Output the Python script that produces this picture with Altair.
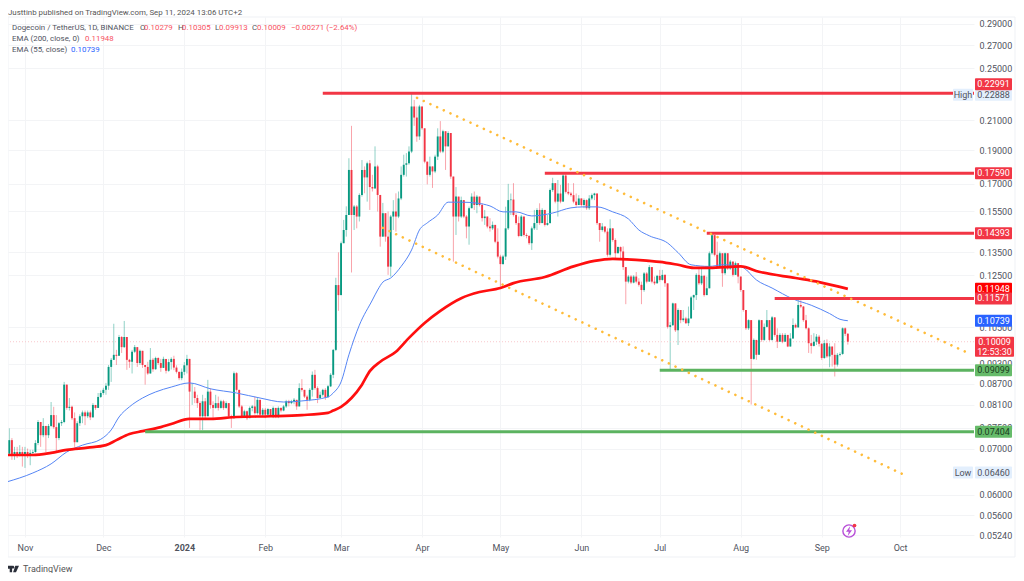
import altair as alt
import pandas as pd

START = pd.Timestamp("2023-10-25", tz="UTC")
DAY_MS = 86400000.0
START_MS = START.value / 1e6

closes = [
 .0688,.0720,.0685,.0692,.0685,.0692,.0683,.0692,.0685,.0690,
 .0692,.0713,.0765,.0732,.0755,.0732,.0755,.0783,.0752,.0725,
 .0762,.0765,.0867,.0802,.0805,.0775,.0715,.0762,.0780,.0790,
 .0780,.0790,.0777,.0810,.0802,.0832,.0843,.0852,.0864,.0920,
 .0942,.0958,.0955,.1017,.0983,.1017,.0942,.0936,.0968,.0983,
 .0932,.0971,.0926,.0920,.0900,.0942,.0913,.0948,.0932,.0917,
 .0945,.0908,.0935,.0945,.0918,.0905,.0886,.0905,.0925,.0945,
 .0847,.0847,.0829,.0815,.0780,.0820,.0780,.0847,.0810,.0802,
 .0815,.0802,.0820,.0802,.0815,.0780,.0775,.0901,.0852,.0806,
 .0780,.0793,.0775,.0802,.0806,.0788,.0824,.0784,.0797,.0784,
 .0799,.0781,.0802,.0778,.0802,.0795,.0806,.0820,.0815,.0820,
 .0824,.0806,.0857,.0852,.0833,.0824,.0852,.0896,.0857,.0829,
 .0838,.0852,.0831,.0862,.0896,.0974,.1210,.1170,.1392,.1455,
 .1530,.1779,.1530,.1574,.1522,.1636,.1779,.1735,.1819,.1680,
 .1672,.1800,.1636,.1423,.1539,.1423,.1287,.1522,.1548,.1522,
 .1617,.1750,.1810,.1819,.1892,.2200,.2120,.1990,.2200,.2045,
 .1829,.1750,.1800,.1770,.1860,.1990,.1892,.2025,.1925,.2013,
 .1740,.1522,.1627,.1522,.1608,.1522,.1472,.1565,.1627,.1582,
 .1627,.1582,.1514,.1522,.1472,.1463,.1480,.1399,.1331,.1298,
 .1331,.1463,.1608,.1611,.1530,.1489,.1426,.1522,.1431,.1426,
 .1392,.1463,.1489,.1556,.1489,.1556,.1480,.1489,.1663,.1702,
 .1600,.1644,.1600,.1746,.1653,.1644,.1635,.1600,.1582,.1617,
 .1582,.1608,.1565,.1617,.1635,.1644,.1489,.1455,.1472,.1447,
 .1339,.1463,.1407,.1346,.1374,.1354,.1285,.1224,.1245,.1220,
 .1245,.1224,.1211,.1190,.1258,.1224,.1285,.1224,.1217,.1248,
 .1231,.1252,.1217,.1052,.1058,.1138,.1040,.1113,.1076,.1082,
 .1065,.1082,.1161,.1170,.1252,.1217,.1248,.1170,.1197,.1346,
 .1430,.1339,.1285,.1346,.1259,.1346,.1279,.1309,.1252,.1302,
 .1245,.1190,.1113,.1047,.1076,.0945,.1007,.0958,.1076,.1007,
 .1052,.1076,.1007,.1086,.1024,.1001,.1024,.1001,.1024,.0985,
 .1012,.1059,.1050,.1132,.1126,.1076,.1047,.0996,.0987,.1001,
 .1018,.0994,.0948,.0996,.0953,.0985,.0958,.0927,.0958,.0961,
 .1047,.10279,.10009]

highs = [
 .0720,.0749,.0725,.0704,.0704,.0708,.0704,.0704,.0700,.0697,
 .0697,.0720,.0770,.0765,.0775,.0755,.0760,.0818,.0805,.0783,
 .0765,.0770,.0875,.0867,.0829,.0808,.0790,.0767,.0785,.0795,
 .0795,.0795,.0795,.0815,.0810,.0843,.0850,.0858,.0872,.0926,
 .0948,.1063,.0974,.1024,.1020,.1073,.1017,.0945,.0974,.0990,
 .0983,.0975,.0971,.0926,.0936,.0980,.0948,.0952,.0950,.0945,
 .0952,.0945,.0945,.0950,.0955,.0925,.0905,.0915,.0935,.0958,
 .0945,.0871,.0860,.0838,.0820,.0838,.0829,.0881,.0857,.0820,
 .0838,.0833,.0824,.0824,.0820,.0815,.0784,.0906,.0904,.0852,
 .0810,.0797,.0795,.0806,.0810,.0833,.0829,.0824,.0802,.0802,
 .0802,.0799,.0806,.0802,.0806,.0804,.0810,.0824,.0824,.0824,
 .0829,.0824,.0871,.0883,.0852,.0838,.0857,.0906,.0911,.0862,
 .0847,.0855,.0857,.0866,.0901,.0977,.1240,.1350,.1400,.1505,
 .1575,.1850,.2062,.1582,.1582,.1645,.1839,.1800,.1829,.1839,
 .1750,.1925,.1810,.1636,.1593,.1539,.1548,.1530,.1608,.1645,
 .1655,.1800,.1872,.1882,.1925,.2297,.2249,.2200,.2212,.2200,
 .2045,.1829,.1860,.1800,.1872,.2045,.2095,.2035,.2025,.2025,
 .2013,.1740,.1680,.1627,.1627,.1608,.1530,.1574,.1645,.1655,
 .1636,.1627,.1591,.1556,.1514,.1514,.1497,.1480,.1463,.1339,
 .1339,.1573,.1698,.1644,.1702,.1540,.1522,.1530,.1522,.1439,
 .1431,.1472,.1556,.1565,.1591,.1565,.1556,.1530,.1672,.1733,
 .1702,.1720,.1692,.1755,.1755,.1702,.1653,.1702,.1644,.1635,
 .1617,.1617,.1612,.1635,.1644,.1648,.1635,.1489,.1489,.1472,
 .1463,.1508,.1463,.1415,.1377,.1377,.1377,.1285,.1251,.1251,
 .1251,.1264,.1238,.1224,.1264,.1264,.1294,.1279,.1245,.1252,
 .1273,.1273,.1252,.1217,.1069,.1141,.1138,.1119,.1113,.1113,
 .1088,.1126,.1167,.1172,.1259,.1279,.1279,.1252,.1245,.1354,
 .1437,.1407,.1399,.1354,.1316,.1349,.1346,.1316,.1302,.1309,
 .1299,.1245,.1190,.1113,.1079,.1076,.1012,.1007,.1079,.1076,
 .1064,.1113,.1076,.1091,.1082,.1047,.1030,.1030,.1030,.1024,
 .1030,.1082,.1064,.1154,.1150,.1128,.1095,.1050,.1024,.1030,
 .1027,.1024,.0996,.1007,.1009,.0996,.0985,.0996,.0964,.0966,
 .1050,.1050,.10305]

lows = [
 .0647,.0684,.0674,.0674,.0678,.0682,.0659,.0656,.0678,.0662,
 .0683,.0690,.0708,.0704,.0727,.0692,.0725,.0752,.0748,.0692,
 .0720,.0755,.0762,.0797,.0795,.0770,.0704,.0715,.0755,.0762,
 .0757,.0775,.0770,.0777,.0797,.0802,.0829,.0838,.0838,.0852,
 .0875,.0942,.0926,.0958,.0964,.0980,.0911,.0917,.0900,.0964,
 .0920,.0926,.0917,.0867,.0896,.0900,.0905,.0911,.0926,.0905,
 .0917,.0900,.0905,.0912,.0910,.0900,.0880,.0880,.0895,.0900,
 .0750,.0810,.0815,.0802,.0745,.0745,.0770,.0793,.0800,.0775,
 .0800,.0795,.0800,.0797,.0800,.0775,.0750,.0775,.0847,.0802,
 .0775,.0775,.0770,.0775,.0793,.0784,.0784,.0780,.0780,.0775,
 .0781,.0778,.0775,.0775,.0775,.0790,.0793,.0802,.0806,.0812,
 .0812,.0797,.0806,.0847,.0829,.0797,.0820,.0833,.0852,.0815,
 .0829,.0833,.0824,.0833,.0860,.0886,.0970,.1110,.1170,.1392,
 .1423,.1530,.1262,.1455,.1463,.1497,.1627,.1645,.1600,.1556,
 .1655,.1672,.1548,.1376,.1423,.1399,.1252,.1245,.1455,.1447,
 .1514,.1608,.1740,.1740,.1810,.1882,.2062,.1955,.1967,.2035,
 .1819,.1695,.1740,.1675,.1760,.1839,.1882,.1882,.1779,.1935,
 .1727,.1309,.1431,.1497,.1514,.1514,.1415,.1385,.1565,.1556,
 .1539,.1574,.1497,.1480,.1463,.1447,.1455,.1392,.1323,.1204,
 .1294,.1316,.1455,.1530,.1522,.1480,.1420,.1423,.1423,.1415,
 .1384,.1361,.1455,.1455,.1480,.1489,.1472,.1476,.1485,.1653,
 .1591,.1522,.1591,.1600,.1644,.1635,.1626,.1591,.1573,.1582,
 .1573,.1565,.1556,.1556,.1608,.1608,.1480,.1399,.1447,.1439,
 .1331,.1331,.1399,.1323,.1346,.1323,.1273,.1135,.1217,.1214,
 .1217,.1217,.1204,.1135,.1183,.1217,.1224,.1217,.1210,.1217,
 .1224,.1228,.1203,.1046,.0911,.1055,.1034,.0990,.1065,.1070,
 .1062,.1055,.1082,.1113,.1151,.1210,.1210,.1164,.1170,.1197,
 .1339,.1332,.1279,.1285,.1203,.1252,.1273,.1273,.1245,.1252,
 .1217,.1183,.1107,.1041,.1041,.0811,.0942,.0942,.0958,.1001,
 .1004,.1050,.1001,.1004,.1018,.0980,.1001,.0996,.1001,.0983,
 .0985,.1011,.1047,.1050,.1120,.1070,.1043,.0964,.0962,.0985,
 .0990,.0985,.0942,.0945,.0948,.0919,.0921,.0891,.0921,.0953,
 .0958,.1020,.09913]

ema55_days = [0,10,17,23,29,36,40,43,47,52,57,63,70,78,88,97,106,113,123,125,128,131,135,140,142,144,147,151,155,158,161,165,169,174,180,185,190,195,201,209,216,221,226,232,238,242,246,253,257,262,269,274,281,282,287,293,301,308,315,319,322]
ema55_vals = [.0626,.0645,.0665,.0692,.0708,.0722,.0745,.0778,.0805,.0829,.0846,.0860,.0872,.0855,.0843,.0829,.0818,.0821,.0832,.0843,.0875,.0958,.1058,.1151,.1190,.1222,.1239,.1288,.1361,.1455,.1490,.1530,.1597,.1597,.1592,.1577,.1546,.1546,.1525,.1540,.1567,.1572,.1572,.1546,.1510,.1455,.1427,.1393,.1349,.1295,.1288,.1295,.1288,.1283,.1231,.1198,.1155,.1131,.1100,.1079,.10739]

ema200_days = [0,10,17,23,31,38,42,47,52,59,63,70,78,88,101,113,123,125,128,132,136,139,143,149,154,160,166,174,181,189,194,206,217,225,232,246,250,257,263,269,281,288,302,311,322]
ema200_vals = [.0685,.0685,.0690,.0697,.0702,.0708,.0720,.0735,.0742,.0752,.0760,.0773,.0773,.0778,.0780,.0783,.0789,.0795,.0805,.0829,.0867,.0907,.0936,.0968,.1014,.1066,.1110,.1158,.1182,.1198,.1218,.1243,.1288,.1312,.1321,.1312,.1308,.1295,.1282,.1282,.1288,.1265,.1239,.1222,.11948]

level_prices = [.22991,.17590,.14393,.11571]
level_days = [121,206,268,294]
support_prices = [.09099,.07404]
support_days = [250,53]

channel_days = [157.1,368.0]
channel_vals = [.2264,.0964]
channel2_days = [144.0,344.3]
channel2_vals = [.1465,.0639]

y_ticks = [.29,.27,.25,.21,.19,.17,.155,.135,.125,.105,.093,.087,.081,.075,.07,.06,.056,.0524]
month_ticks = ["2023-11-01","2023-12-01","2024-01-01","2024-02-01","2024-03-01","2024-04-01","2024-05-01","2024-06-01","2024-07-01","2024-08-01","2024-09-01","2024-10-01"]

FONT = "Roboto"
RED = "#f23645"
GREEN = "#089981"
TXT = "#50535e"
W, H = 966, 520


def day_ms(d):
    return START_MS + d * DAY_MS


tick_ms = [pd.Timestamp(m, tz="UTC").value / 1e6 for m in month_ticks]

x_scale = alt.Scale(type="utc", domain=[day_ms(0.5), day_ms(370.3)])
y_scale = alt.Scale(type="log", domain=[.05206, .29684], nice=False)
x_axis = alt.Axis(
    values=tick_ms, grid=True, gridColor="#f3f4f6", gridWidth=1, domain=False, ticks=False,
    labelExpr="utcmonth(datum.value)==0 ? '2024' : utcFormat(datum.value,'%b')",
    labelFont=FONT, labelFontSize=9, labelColor=TXT, labelPadding=6, labelAlign="center",
    labelFontWeight={"condition": {"test": "utcmonth(datum.value)==0", "value": "bold"}, "value": "normal"},
    title=None, labelOverlap=False, labelFlush=False)
y_axis = alt.Axis(
    values=y_ticks, orient="right", grid=True, gridColor="#f3f4f6", gridWidth=1, domain=False,
    ticks=False, format=".5f", labelFont=FONT, labelFontSize=9, labelColor=TXT, labelPadding=5,
    title=None, labelOverlap=False, labelFlush=False)
X = lambda f: alt.X(f"{f}:T", scale=x_scale, axis=x_axis)
Y = lambda f: alt.Y(f"{f}:Q", scale=y_scale, axis=y_axis)

opens = [closes[0]] + closes[:-1]
df = pd.DataFrame({"t": [day_ms(i) for i in range(len(closes))],
                   "o": opens, "c": closes, "h": highs, "l": lows})
df["h"] = df[["h", "o", "c"]].max(axis=1)
df["l"] = df[["l", "o", "c"]].min(axis=1)
df["dir"] = ["up" if c >= o else "down" for o, c in zip(df.o, df.c)]
color = alt.Color("dir:N", scale=alt.Scale(domain=["up", "down"], range=[GREEN, RED]), legend=None)

wicks = alt.Chart(df).mark_rule(strokeWidth=1, opacity=0.45).encode(
    x=X("t"), y=Y("l"), y2="h:Q", color=color)

bodies = alt.Chart(df).mark_rule(strokeWidth=1.9).encode(
    x=X("t"), y=Y("o"), y2="c:Q", color=color)

ema55 = alt.Chart(pd.DataFrame({"t": [day_ms(d) for d in ema55_days], "p": ema55_vals})).mark_line(
    color="#5585f5", strokeWidth=1, interpolate="monotone").encode(x=X("t"), y=Y("p"))
ema200 = alt.Chart(pd.DataFrame({"t": [day_ms(d) for d in ema200_days], "p": ema200_vals})).mark_line(
    color="#ff0f0f", strokeWidth=2.7, interpolate="monotone").encode(x=X("t"), y=Y("p"))


def dotted(days, vals):
    return alt.Chart(pd.DataFrame({"t": [day_ms(d) for d in days], "p": vals})).mark_line(
        color="#ffbc3a", strokeWidth=2.6, strokeDash=[0.01, 7.35], strokeCap="round").encode(x=X("t"), y=Y("p"))


def levels(prices, days, col):
    d = pd.DataFrame({"p": prices, "t": [day_ms(v) for v in days], "e": [day_ms(370.3)] * len(days)})
    return alt.Chart(d).mark_rule(color=col, strokeWidth=3).encode(x=X("t"), x2="e:T", y=Y("p"))


last_line = alt.Chart(pd.DataFrame({"p": [closes[-1]]})).mark_rule(
    color="#f9c9cd", strokeWidth=1, strokeDash=[1, 2]).encode(y=Y("p"))

one = pd.DataFrame({"a": [0]})


def frame(x1, x2, y1, y2):
    return alt.Chart(one).mark_rule(color="#eff1f5", strokeWidth=1).encode(
        x=alt.value(x1), x2=alt.value(x2), y=alt.value(y1), y2=alt.value(y2))


def tag(price, label, bg, fg="#ffffff", yoff=0, xc=985.5, w=37, h=12, txt_off=0):
    d = pd.DataFrame({"p": [price], "s": [label]})
    t = alt.Chart(d).mark_text(font=FONT, fontSize=9, color=fg, align="center", baseline="middle",
                               dy=yoff + txt_off).encode(x=alt.value(xc), y=Y("p"), text="s:N")
    if not w:
        return t
    r = alt.Chart(d).mark_rect(color=bg, width=w, height=h, cornerRadius=1, yOffset=yoff).encode(
        x=alt.value(xc), y=Y("p"))
    return r + t


tags = [
    tag(.22888, "0.22888", "#e3effd", TXT),
    tag(.22888, "High", "#e3effd", TXT, xc=955, w=20),
    tag(.22991, "0.22991", RED, yoff=-9),
    tag(.17590, "0.17590", RED),
    tag(.14393, "0.14393", RED),
    tag(.11948, "0.11948", "#ff0000"),
    tag(.11571, "0.11571", RED),
    tag(.10739, "0.10739", "#2962ff"),
    tag(.10009, "0.10009", RED, yoff=5, xc=986.5, w=39, h=20, txt_off=-5),
    tag(.10009, "12:53:30", RED, yoff=10, xc=986.5, w=0),
    tag(.09099, "0.09099", "#66bb6a", "#1b3d1e"),
    tag(.07404, "0.07404", "#66bb6a", "#1b3d1e"),
    tag(.06460, "0.06460", "#e3effd", TXT),
    tag(.06460, "Low", "#e3effd", TXT, xc=955, w=20),
]


def label(x, y, s, col=TXT, size=7.9, weight="normal"):
    return alt.Chart(pd.DataFrame({"s": [s]})).mark_text(
        font=FONT, fontSize=size, color=col, align="left", baseline="middle", fontWeight=weight).encode(
        x=alt.value(x), y=alt.value(y), text="s:N")


VAL = "#f7525f"
texts = [
    label(0, -4.5, "Justtinb published on TradingView.com, Sep 11, 2024 13:06 UTC+2", "#555555"),
    label(4, 11, "Dogecoin / TetherUS, 1D, BINANCE", "#50535e"), label(132, 11, "O", "#50535e"),
    label(136, 11, "0.10279", VAL), label(170, 11, "H", "#50535e"), label(174, 11, "0.10305", VAL),
    label(207, 11, "L", "#50535e"), label(211, 11, "0.09913", VAL), label(244, 11, "C", "#50535e"),
    label(249, 11, "0.10009", VAL), label(283, 11, "\u22120.00271 (\u22122.64%)", VAL),
    label(4, 22, "EMA (200, close, 0)", "#50535e"), label(77, 22, "0.11948", VAL),
    label(4, 33, "EMA (55, close)", "#50535e"), label(63, 33, "0.10739", "#2962ff"),
    label(15, 552, "TradingView", "#555555", 9),
]

logo = alt.Chart(one).mark_point(
    shape="M-1,-0.55H-0.15V0.55H-0.55V-0.05H-1Z M0.38,-0.55H1L0.5,0.55H0.02Z M-0.02,-0.55A0.24,0.24 0 1 1 -0.02,-0.07A0.24,0.24 0 1 1 -0.02,-0.55Z",
    filled=True, color="#2a2e39", opacity=1, size=144).encode(x=alt.value(5), y=alt.value(552))
badge = alt.Chart(one).mark_point(shape="circle", filled=False, color="#b84fd8", strokeWidth=1.4,
                                  opacity=1, size=150).encode(x=alt.value(841), y=alt.value(514))
bolt = alt.Chart(one).mark_point(shape="M0.25,-1L-0.6,0.15H-0.05L-0.25,1L0.6,-0.15H0.05Z", filled=True,
                                 color="#b84fd8", opacity=1, size=100).encode(x=alt.value(841), y=alt.value(514))
dot = alt.Chart(one).mark_point(shape="circle", filled=True, color=RED, opacity=1, size=14).encode(
    x=alt.value(846.5), y=alt.value(508.5))

chart = alt.layer(
    wicks,
    frame(0, 1007, 0, 0), frame(0, 1007, 540, 540), frame(0, 0, 0, 540), frame(1007, 1007, 0, 540),
    last_line, bodies, ema55, ema200,
    levels(level_prices, level_days, RED), levels(support_prices, support_days, "#5cb360"),
    dotted(channel_days, channel_vals), dotted(channel2_days, channel2_vals),
    *tags, *texts, logo, badge, bolt, dot,
).properties(
    width=W, height=H, autosize="none",
    padding={"left": 0, "top": 9, "right": 42, "bottom": 36},
    background="white",
).configure_view(stroke=None)

chart.save("out.html", embed_options={"renderer": "svg", "actions": False})
